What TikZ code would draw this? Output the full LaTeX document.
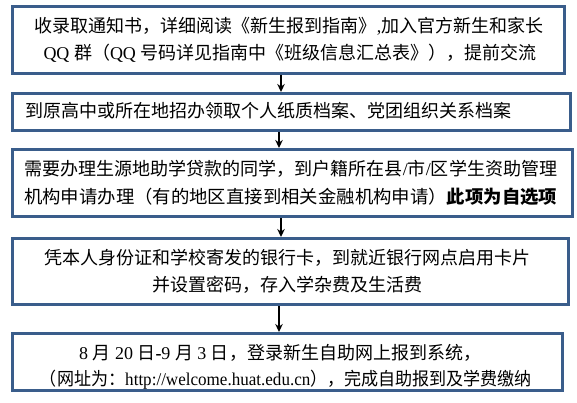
\documentclass[tikz,border=0pt]{standalone}
\usepackage{fontspec}
\usepackage{graphicx}
\setmainfont{Liberation Serif}
\newfontfamily\cjk{Noto Sans CJK SC}
\usetikzlibrary{arrows.meta}
\definecolor{frame}{HTML}{3A5D8B}
\tikzset{
  stepbox/.style={draw=frame, line width=3pt, rectangle, anchor=north west, inner sep=0pt},
  txt/.style={inner sep=0pt, font=\fontsize{18}{18}\selectfont, text=black},
  flow/.style={-{Stealth[length=8pt,width=7.5pt]}, line width=1.4pt, black}
}
\begin{document}
\begin{tikzpicture}[x=1pt,y=-1pt]
\useasboundingbox (0,0) rectangle (577,403);
% boxes
\node[stepbox, minimum width=552pt, minimum height=67pt] (b1) at (11,5) {};
\node[stepbox, minimum width=558pt, minimum height=37pt] (b2) at (11,92) {};
\node[stepbox, minimum width=560pt, minimum height=67pt] (b3) at (11,148) {};
\node[stepbox, minimum width=556pt, minimum height=66pt] (b4) at (11,237) {};
\node[stepbox, minimum width=550pt, minimum height=57pt] (b5) at (11,332) {};
% texts
\node[txt] (t1a) at (289,26) {{\cjk 收录取通知书，详细阅读《新生报到指南》},{\cjk 加入官方新生和家长}};
\node[txt] (t1b) at (290,53) {QQ {\cjk 群（}QQ {\cjk 号码详见指南中《班级信息汇总表》），提前交流}};
\node[txt, anchor=west] (t2) at (25,111) {\cjk 到原高中或所在地招办领取个人纸质档案、党团组织关系档案};
\node[txt, anchor=west] (t3a) at (24,169) {\resizebox{533pt}{\height}{{\cjk 需要办理生源地助学贷款的同学，到户籍所在县}/{\cjk 市}/{\cjk 区学生资助管理}}};
\node[txt, anchor=west] (t3b) at (24,197) {\resizebox{533pt}{\height}{{\cjk 机构申请办理（有的地区直接到相关金融机构申请）\bfseries 此项为自选项}}};
\node[txt] (t4a) at (287,258) {\cjk 凭本人身份证和学校寄发的银行卡，到就近银行网点启用卡片};
\node[txt] (t4b) at (287,285) {\cjk 并设置密码，存入学杂费及生活费};
\node[txt] (t5a) at (280,353) {8 {\cjk 月} 20 {\cjk 日}\textbf{-}9 {\cjk 月} 3 {\cjk 日，登录新生自助网上报到系统，}};
\node[txt] (t5b) at (286,380) {\resizebox{492pt}{\height}{{\cjk （网址为：}http://welcome.huat.edu.cn{\cjk ），完成自助报到及学费缴纳}}};
% arrows
\coordinate (ax1) at (281,0);
\coordinate (ax2) at (279,0);
\draw[flow] (b1.south -| ax1) -- (b2.north -| ax1);
\draw[flow] (b2.south -| ax2) -- (b3.north -| ax2);
\draw[flow] (b3.south -| ax1) -- (b4.north -| ax1);
\draw[flow] (b4.south -| ax2) -- (b5.north -| ax2);
\end{tikzpicture}
\end{document}
